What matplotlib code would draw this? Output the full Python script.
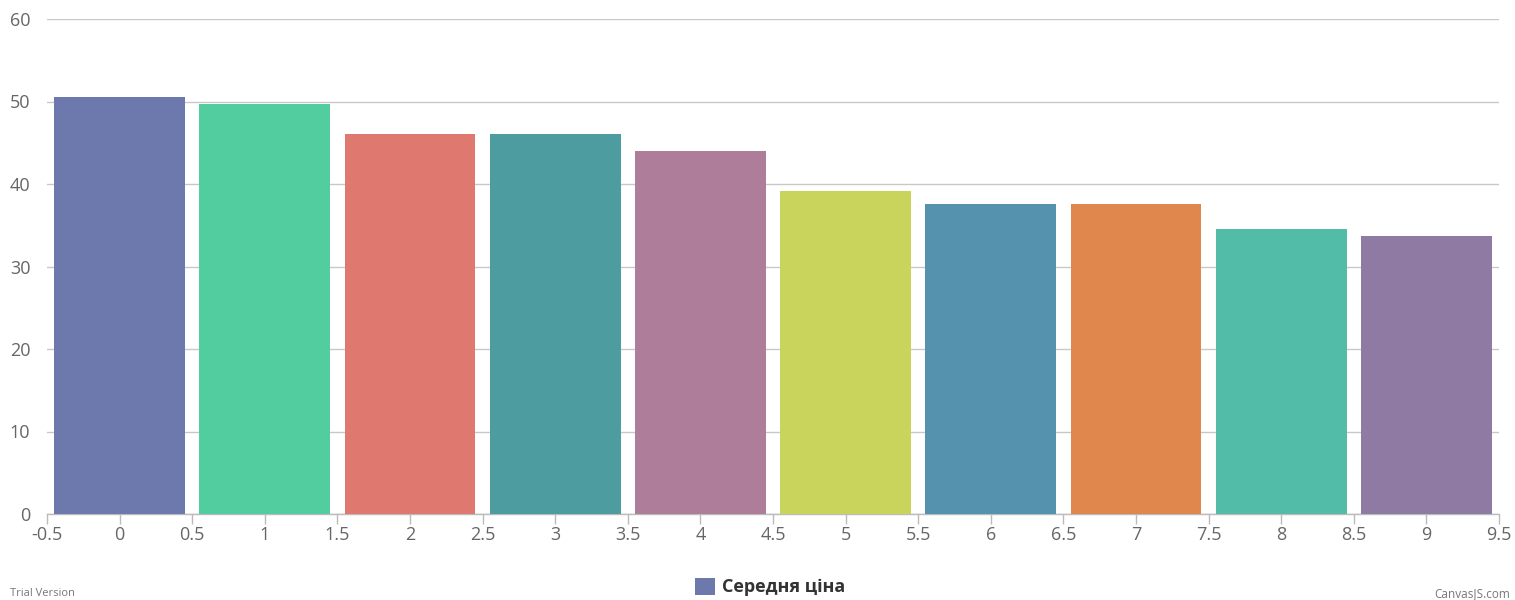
import matplotlib.pyplot as plt
from matplotlib.patches import Patch

# values
positions = [0, 1, 2, 3, 4, 5, 6, 7, 8, 9]
avg_price = [50.6, 49.7, 46.1, 46.1, 44.0, 39.2, 37.6, 37.6, 34.5, 33.7]
bar_colors = ["#6D78AD", "#51CDA0", "#DF7970", "#4C9CA0", "#AE7D99",
              "#C9D45C", "#5592AD", "#DF874D", "#52BCA8", "#8E7AA3"]
x_ticks = [-0.5, 0, 0.5, 1, 1.5, 2, 2.5, 3, 3.5, 4, 4.5, 5, 5.5, 6, 6.5, 7, 7.5, 8, 8.5, 9, 9.5]
y_ticks = [0, 10, 20, 30, 40, 50, 60]
series_name = "Середня ціна"

plt.rcParams['font.family'] = ['Open Sans', 'DejaVu Sans']

fig = plt.figure(figsize=(15.15, 6), dpi=100)
ax = fig.add_axes([47 / 1515, 1 - 514 / 600, (1499 - 47) / 1515, (514 - 19) / 600])

ax.bar(positions, avg_price, width=0.9, color=bar_colors, zorder=3)

ax.set_xlim(-0.5, 9.5)
ax.set_ylim(0, 60)
ax.set_xticks(x_ticks)
ax.set_xticklabels([f"{t:g}" for t in x_ticks])
ax.set_yticks(y_ticks)

ax.grid(axis="y", color="#C8C8C8", linewidth=1, zorder=0)
for side in ["top", "right", "left"]:
    ax.spines[side].set_visible(False)
ax.spines["bottom"].set_color("#BBBBBB")
ax.spines["bottom"].set_linewidth(1)

ax.tick_params(axis="x", colors="#BBBBBB", length=7, width=1, labelcolor="#666666", labelsize=13, pad=2)
ax.tick_params(axis="y", colors="#BBBBBB", length=0, labelcolor="#666666", labelsize=13, pad=12)

handle = Patch(facecolor=bar_colors[0], edgecolor="none")
fig.legend([handle], [series_name], loc="center", bbox_to_anchor=(770 / 1515, 1 - 587 / 600),
           frameon=False, handlelength=1.1, handleheight=1.1, handletextpad=0.4,
           prop={"size": 13, "weight": "bold"}, labelcolor="#333333")

fig.text(10 / 1515, 1 - 593 / 600, "Trial Version", fontsize=8, color="#777777", va="center")
fig.text(1510 / 1515, 1 - 594 / 600, "CanvasJS.com", fontsize=8.5, color="#777777",
         va="center", ha="right")

fig.savefig("out.png", dpi=100)
